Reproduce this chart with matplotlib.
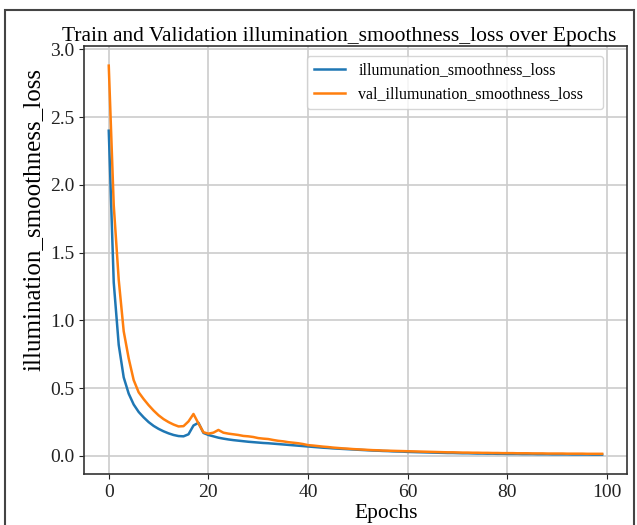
import matplotlib
matplotlib.use('Agg')
import matplotlib.pyplot as plt
from matplotlib.patches import Rectangle

epochs = list(range(100))

train_loss = [
    2.40, 1.28, 0.82, 0.58, 0.46, 0.38, 0.325, 0.285, 0.25, 0.222,
    0.20, 0.182, 0.167, 0.155, 0.147, 0.145, 0.16, 0.225, 0.245, 0.17,
    0.155, 0.145, 0.135, 0.128, 0.122, 0.117, 0.113, 0.109, 0.105, 0.102,
    0.099, 0.096, 0.094, 0.091, 0.088, 0.085, 0.082, 0.079, 0.076, 0.073,
    0.070, 0.067, 0.064, 0.061, 0.059, 0.056, 0.054, 0.052, 0.050, 0.048,
    0.046, 0.044, 0.042, 0.040, 0.039, 0.037, 0.036, 0.034, 0.033, 0.032,
    0.030, 0.029, 0.028, 0.027, 0.026, 0.025, 0.024, 0.023, 0.022, 0.022,
    0.021, 0.020, 0.020, 0.019, 0.018, 0.018, 0.017, 0.017, 0.016, 0.016,
    0.015, 0.015, 0.015, 0.014, 0.014, 0.014, 0.013, 0.013, 0.013, 0.012,
    0.012, 0.012, 0.012, 0.011, 0.011, 0.011, 0.011, 0.010, 0.010, 0.010,
]

val_loss = [
    2.88, 1.85, 1.30, 0.92, 0.72, 0.56, 0.47, 0.42, 0.375, 0.335,
    0.30, 0.272, 0.25, 0.232, 0.218, 0.22, 0.255, 0.31, 0.24, 0.175,
    0.165, 0.172, 0.192, 0.172, 0.165, 0.16, 0.155, 0.148, 0.145, 0.14,
    0.132, 0.128, 0.125, 0.118, 0.112, 0.108, 0.102, 0.098, 0.094, 0.088,
    0.080, 0.077, 0.073, 0.069, 0.066, 0.062, 0.059, 0.056, 0.054, 0.051,
    0.049, 0.047, 0.045, 0.043, 0.042, 0.040, 0.039, 0.038, 0.037, 0.036,
    0.035, 0.034, 0.033, 0.032, 0.031, 0.030, 0.029, 0.028, 0.027, 0.027,
    0.026, 0.025, 0.025, 0.024, 0.024, 0.023, 0.023, 0.022, 0.022, 0.021,
    0.021, 0.021, 0.020, 0.020, 0.020, 0.019, 0.019, 0.019, 0.018, 0.018,
    0.018, 0.018, 0.017, 0.017, 0.017, 0.017, 0.016, 0.016, 0.016, 0.016,
]

plt.rcParams['font.family'] = ['Liberation Serif', 'DejaVu Serif']

fig = plt.figure(figsize=(6.37, 5.25), dpi=100)
ax = fig.add_axes([0.132, 0.097, 0.852, 0.815])

ax.plot(epochs, train_loss, color='#1f77b4', lw=1.8, label='illumunation_smoothness_loss')
ax.plot(epochs, val_loss, color='#ff7f0e', lw=1.8, label='val_illumunation_smoothness_loss')

ax.set_title('Train and Validation illumination_smoothness_loss over Epochs',
             fontsize=15.5, x=0.47, pad=4)
ax.set_xlabel('Epochs', fontsize=15.5, labelpad=2, x=0.556)
ax.set_ylabel('illumination_smoothness_loss', fontsize=18, y=0.596, labelpad=4)
ax.set_yticks([0.0, 0.5, 1.0, 1.5, 2.0, 2.5, 3.0])
ax.set_xticks([0, 20, 40, 60, 80, 100])
ax.tick_params(labelsize=14, colors='#222222')
ax.grid(True, color='#cccccc', lw=1.2)
for s in ax.spines.values():
    s.set_color('#333333')
    s.set_linewidth(1.2)
ax.legend(loc='upper left', fontsize=11.5, mode='expand', borderaxespad=0,
          bbox_to_anchor=(0.411, 0.977, 0.545, 0.0))

# outer frame around the figure
fig.patches.append(Rectangle((0.008, -0.05), 0.988, 1.031, transform=fig.transFigure,
                             fill=False, edgecolor='#444444', lw=1.5))

fig.savefig('out.png', dpi=100)
